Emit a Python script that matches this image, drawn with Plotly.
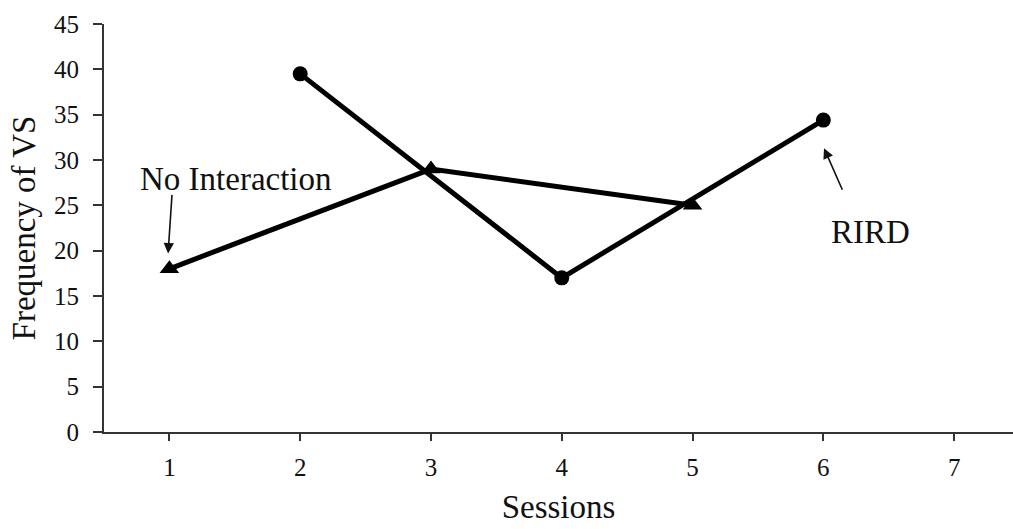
import plotly.graph_objects as go

# Data
no_interaction_sessions = [1, 3, 5]
no_interaction_values = [18, 29, 25]
rird_sessions = [2, 4, 6]
rird_values = [39.5, 17, 34.4]
x_ticks = [1, 2, 3, 4, 5, 6, 7]
y_ticks = [0, 5, 10, 15, 20, 25, 30, 35, 40, 45]

FONT = "Liberation Serif"
INK = "#111111"

fig = go.Figure()
fig.add_trace(go.Scatter(
    x=no_interaction_sessions, y=no_interaction_values, mode="lines+markers",
    line=dict(color="black", width=5),
    marker=dict(symbol="triangle-up", size=17, color="black"),
    name="No Interaction", cliponaxis=False))
fig.add_trace(go.Scatter(
    x=rird_sessions, y=rird_values, mode="lines+markers",
    line=dict(color="black", width=5),
    marker=dict(symbol="circle", size=15, color="black"),
    name="RIRD", cliponaxis=False))

axis_common = dict(showgrid=False, zeroline=False, showline=True, linecolor="#333333",
                   linewidth=2, ticks="outside", tickcolor="#333333", tickwidth=2,
                   tickfont=dict(family=FONT, size=25, color=INK))

fig.update_xaxes(range=[0.5, 7.45], tickvals=x_ticks, ticklen=7, ticklabelstandoff=5,
                 title=dict(text="Sessions", font=dict(family=FONT, size=33, color=INK), standoff=15),
                 **axis_common)
fig.update_yaxes(range=[0, 45], tickvals=y_ticks, ticklen=9, ticklabelstandoff=9,
                 title=dict(text="Frequency of VS", font=dict(family=FONT, size=33, color=INK), standoff=8),
                 **axis_common)

# Annotations (labels and arrows)
fig.add_annotation(x=0.76, y=27.9, xref="x", yref="y", text="No Interaction", showarrow=False,
                   xanchor="left", yanchor="middle", font=dict(family=FONT, size=33, color=INK))
fig.add_annotation(x=0.99, y=19.7, xref="x", yref="y", text="", showarrow=True,
                   ax=4, ay=-60, arrowhead=2, arrowsize=1.3, arrowwidth=1.6, arrowcolor=INK)
fig.add_annotation(x=6.04, y=22.06, xref="x", yref="y", text="RIRD", showarrow=False,
                   xanchor="left", yanchor="middle", font=dict(family=FONT, size=33, color=INK))
fig.add_annotation(x=6.005, y=31.3, xref="x", yref="y", text="", showarrow=True,
                   ax=19, ay=43, arrowhead=2, arrowsize=1.3, arrowwidth=1.6, arrowcolor=INK)

fig.update_layout(width=1013, height=529, margin=dict(l=104, r=0, t=24, b=97),
                  plot_bgcolor="white", paper_bgcolor="white", showlegend=False)

fig.write_html("out.html", config={"displayModeBar": False},
               post_script="document.body.style.margin='0px';document.body.style.overflow='hidden';")
